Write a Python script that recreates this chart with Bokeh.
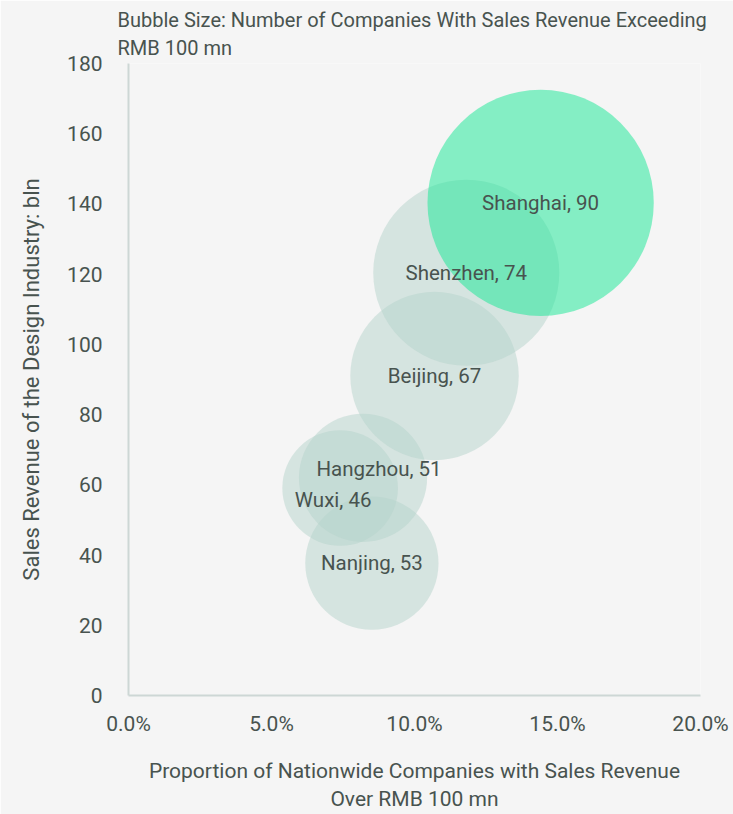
from bokeh.plotting import figure
from bokeh.models import ColumnDataSource, NumeralTickFormatter, FixedTicker, Range1d
from bokeh.core.properties import value
from bokeh.embed import file_html
from bokeh.resources import INLINE

# ---- data ----
cities = ["Nanjing", "Wuxi", "Hangzhou", "Beijing", "Shenzhen", "Shanghai"]
share = [0.0851, 0.0740, 0.0820, 0.1070, 0.1181, 0.1441]      # x: proportion
revenue = [37.7, 59.1, 62.0, 91.0, 120.4, 140.3]               # y: bln
companies = [53, 46, 51, 67, 74, 90]                           # bubble size
x_ticks = [0.0, 0.05, 0.10, 0.15, 0.20]
y_ticks = [0, 20, 40, 60, 80, 100, 120, 140, 160, 180]

# ---- styling (not data) ----
FONT = "Roboto"
TXT = "#48534f"
BG = "#f5f5f5"
PX_PER_COMPANY = 1.257
label_dx = [0, -7, 16, 0, 0, 0]
label_dy = [0, 12, -9, 0, 0, 0]

labels = [f"{c}, {n}" for c, n in zip(cities, companies)]
radius = [n * PX_PER_COMPANY for n in companies]
colors = ["#b5d3cc"] * 5 + ["#13e793"]

src = ColumnDataSource(dict(x=share, y=revenue, r=radius, label=labels,
                            color=colors, dx=label_dx, dy=label_dy))

p = figure(width=733, height=814, output_backend="svg", toolbar_location=None,
           x_range=Range1d(0, 0.2), y_range=Range1d(0, 180),
           min_border_left=128, min_border_right=33, min_border_top=63,
           min_border_bottom=119)
p.background_fill_color = BG
p.border_fill_color = BG
p.outline_line_color = None
p.grid.visible = False

p.circle(x="x", y="y", radius="r", radius_units="screen", source=src,
         fill_color="color", fill_alpha=0.5, line_color=None)

p.text(x="x", y="y", text="label", source=src, x_offset="dx", y_offset="dy",
       text_align="center", text_baseline="middle",
       text_font=value(FONT), text_font_size="20.5px", text_color=TXT)

p.title.text = "Bubble Size: Number of Companies With Sales Revenue Exceeding\nRMB 100 mn"
p.title.align = "left"
p.title.offset = -11
p.title.standoff = 6
p.title.text_font = FONT
p.title.text_font_size = "20px"
p.title.text_font_style = "normal"
p.title.text_color = TXT
p.title.text_line_height = 1.2

for ax in (p.xaxis[0], p.yaxis[0]):
    ax.axis_line_color = "#cdd7d5"
    ax.axis_line_width = 2
    ax.major_tick_line_color = None
    ax.minor_tick_line_color = None
    ax.major_label_text_font = FONT
    ax.major_label_text_font_size = "21px"
    ax.major_label_text_color = TXT
    ax.axis_label_text_font = FONT
    ax.axis_label_text_font_size = "21px"
    ax.axis_label_text_font_style = "normal"
    ax.axis_label_text_color = TXT

p.yaxis.axis_label_text_font_size = "22px"
p.xaxis.ticker = FixedTicker(ticks=x_ticks)
p.yaxis.ticker = FixedTicker(ticks=y_ticks)
p.xaxis.formatter = NumeralTickFormatter(format="0.0%")
p.xaxis.major_label_standoff = 10
p.yaxis.major_label_standoff = 20
p.xaxis.axis_label = "Proportion of Nationwide Companies with Sales Revenue\nOver RMB 100 mn"
p.xaxis.axis_label_standoff = 20
p.xaxis.axis_label_text_line_height = 1.2
p.yaxis.axis_label = "Sales Revenue of the Design Industry: bln"
p.yaxis.axis_label_standoff = 20

open("out.html", "w").write(file_html(p, INLINE))
